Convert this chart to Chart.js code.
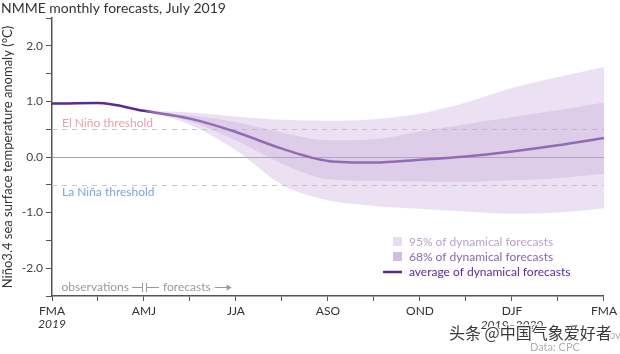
<!DOCTYPE html>
<html>
<head>
<meta charset="utf-8">
<script src="https://cdn.jsdelivr.net/npm/chart.js@4.4.1/dist/chart.umd.min.js"></script>
<style>
  body { margin: 0; background: #fff; }
  canvas { display: block; }
</style>
</head>
<body>
<canvas id="ninoChart" width="620" height="354"></canvas>
<script>
// seasons (3-month running), FMA 2019 .. FMA 2020
const seasons = ['FMA', 'MAM', 'AMJ', 'MJJ', 'JJA', 'JAS', 'ASO', 'SON', 'OND', 'NDJ', 'DJF', 'JFM', 'FMA'];

// average of dynamical forecasts (observations up to AMJ)
const avgForecast = [0.96, 0.97, 0.83, 0.69, 0.45, 0.15, -0.07, -0.10, -0.05, 0.01, 0.10, 0.21, 0.34];

// spread of the dynamical forecasts
const upper95 = [null, null, 0.83, 0.80, 0.73, 0.67, 0.65, 0.68, 0.78, 0.98, 1.24, 1.44, 1.62];
const lower95 = [null, null, 0.83, 0.58, 0.12, -0.50, -0.78, -0.88, -0.93, -0.98, -1.02, -1.00, -0.92];
const upper68 = [null, null, 0.83, 0.75, 0.63, 0.44, 0.30, 0.32, 0.46, 0.59, 0.72, 0.84, 0.98];
const lower68 = [null, null, 0.83, 0.64, 0.30, -0.12, -0.40, -0.43, -0.44, -0.45, -0.42, -0.38, -0.30];

const thresholdValues = [0.5, -0.5];
const thresholdLabels = ['El Niño threshold', 'La Niña threshold'];
const legendLabels = ['95% of dynamical forecasts', '68% of dynamical forecasts', 'average of dynamical forecasts'];

const FONT = 'Lato, "DejaVu Sans", sans-serif';
Chart.defaults.font.family = FONT;
Chart.defaults.font.size = 12;

const annotations = {
  id: 'annotations',
  beforeDatasetsDraw(chart) {
    const { ctx, chartArea: a, scales: { y } } = chart;
    ctx.save();
    ctx.lineWidth = 1;
    // zero line
    ctx.strokeStyle = '#a5a5a5';
    const y0 = Math.round(y.getPixelForValue(0)) + 0.5;
    ctx.beginPath(); ctx.moveTo(a.left, y0); ctx.lineTo(a.right, y0); ctx.stroke();
    // threshold lines
    ctx.setLineDash([5, 5]);
    ctx.strokeStyle = '#cdc3ca';
    thresholdValues.forEach(v => {
      const yy = Math.round(y.getPixelForValue(v)) + 0.5;
      ctx.beginPath(); ctx.moveTo(a.left, yy); ctx.lineTo(a.right, yy); ctx.stroke();
    });
    ctx.restore();
  },
  afterDraw(chart) {
    const { ctx, chartArea: a, scales: { x, y } } = chart;
    ctx.save();

    // title
    ctx.fillStyle = '#333';
    ctx.font = '14px ' + FONT;
    ctx.textBaseline = 'alphabetic';
    ctx.textAlign = 'left';
    ctx.fillText('NMME monthly forecasts, July 2019', 1, 13);

    // threshold labels
    ctx.font = '12px ' + FONT;
    ctx.textBaseline = 'middle';
    ctx.fillStyle = '#e3a2ab';
    ctx.fillText(thresholdLabels[0], a.left + 10, y.getPixelForValue(thresholdValues[0]) - 6);
    ctx.fillStyle = '#78a6d2';
    ctx.fillText(thresholdLabels[1], a.left + 10, y.getPixelForValue(thresholdValues[1]) + 7);

    // legend
    const lx = 393, ly = 242;
    ctx.fillStyle = '#e8ddef';
    ctx.fillRect(lx, ly - 5, 9, 9);
    ctx.fillStyle = '#d1bddf';
    ctx.fillRect(lx, ly + 10, 9, 9);
    ctx.strokeStyle = '#5b2b90';
    ctx.lineWidth = 2.5;
    ctx.beginPath(); ctx.moveTo(lx - 10, ly + 30); ctx.lineTo(lx + 9, ly + 30); ctx.stroke();
    const legendColors = ['#b9a1cc', '#8b64ad', '#5b2b90'];
    legendLabels.forEach((t, i) => {
      ctx.fillStyle = legendColors[i];
      ctx.fillText(t, lx + 16, ly + i * 15);
    });

    // observations | forecasts
    const xd = x.getPixelForValue(2);
    const yo = a.bottom - 9;
    ctx.fillStyle = '#9a9a9a';
    ctx.strokeStyle = '#9a9a9a';
    ctx.lineWidth = 1;
    ctx.textAlign = 'right';
    ctx.fillText('observations', xd - 15, yo);
    ctx.textAlign = 'left';
    ctx.fillText('forecasts', xd + 19, yo);
    ctx.beginPath();
    ctx.moveTo(xd - 12, yo + 0.5); ctx.lineTo(xd - 2, yo + 0.5);
    ctx.moveTo(xd + 3, yo + 0.5); ctx.lineTo(xd + 15, yo + 0.5);
    ctx.moveTo(xd - 1.5, yo - 4); ctx.lineTo(xd - 1.5, yo + 5);
    ctx.moveTo(xd + 2.5, yo - 4); ctx.lineTo(xd + 2.5, yo + 5);
    const fw = ctx.measureText('forecasts').width;
    const ax = xd + 19 + fw + 4;
    ctx.moveTo(ax, yo + 0.5); ctx.lineTo(ax + 14, yo + 0.5);
    ctx.stroke();
    ctx.beginPath();
    ctx.moveTo(ax + 17, yo + 0.5); ctx.lineTo(ax + 12, yo - 2.5); ctx.lineTo(ax + 12, yo + 3.5);
    ctx.closePath(); ctx.fill();

    // year labels
    ctx.fillStyle = '#333';
    ctx.font = 'italic 12px ' + FONT;
    ctx.textAlign = 'center';
    ctx.fillText('2019', x.getPixelForValue(0), 324);
    ctx.fillText('2019–2020', x.getPixelForValue(10), 325);

    // credits
    ctx.font = '11px ' + FONT;
    ctx.fillStyle = '#b0b0b0';
    ctx.textAlign = 'left';
    ctx.fillText('Data: CPC', 530, 347);
    ctx.fillText('ov', 609, 335);

    // watermark
    ctx.font = '16px "Noto Sans CJK SC", sans-serif';
    ctx.lineWidth = 3;
    ctx.strokeStyle = 'rgba(255,255,255,0.9)';
    ctx.fillStyle = '#3a3a3a';
    ctx.strokeText('头条 @中国气象爱好者', 449, 333);
    ctx.fillText('头条 @中国气象爱好者', 449, 333);

    ctx.restore();
  }
};

const bandStyle = { borderWidth: 0, pointRadius: 0, cubicInterpolationMode: 'monotone' };

const ctx = document.getElementById('ninoChart');
window.ninoChart = new Chart(ctx, {
  type: 'line',
  data: {
    labels: seasons,
    datasets: [
      { ...bandStyle, label: '95% upper', data: upper95, backgroundColor: 'rgba(200,170,220,0.35)', fill: '+1' },
      { ...bandStyle, label: '95% lower', data: lower95, fill: false },
      { ...bandStyle, label: '68% upper', data: upper68, backgroundColor: 'rgba(180,150,200,0.29)', fill: '+1' },
      { ...bandStyle, label: '68% lower', data: lower68, fill: false },
      {
        label: 'average',
        data: avgForecast,
        borderColor: '#5b2b90',
        borderWidth: 2.5,
        pointRadius: 0,
        fill: false,
        cubicInterpolationMode: 'monotone'
      }
    ]
  },
  options: {
    responsive: false,
    animation: false,
    layout: { padding: { top: 18, right: 12, left: 0, bottom: 0 } },
    plugins: {
      legend: { display: false },
      tooltip: { enabled: false }
    },
    scales: {
      x: {
        grid: { drawOnChartArea: false, drawTicks: true, tickLength: 5, color: '#555', lineWidth: 1 },
        border: { color: '#555', width: 1.5 },
        ticks: {
          color: '#333',
          padding: 3,
          maxRotation: 0,
          autoSkip: false,
          callback: (v, i) => (i % 2 === 0 ? seasons[i] : '')
        },
        afterFit: s => { s.height = 58; }
      },
      y: {
        min: -2.5,
        max: 2.5,
        grid: { drawOnChartArea: false, drawTicks: true, tickLength: 6, color: '#555', lineWidth: 1 },
        border: { color: '#555', width: 1.5 },
        ticks: {
          stepSize: 0.5,
          color: '#444',
          padding: 3,
          callback: v => (Number.isInteger(v) ? v.toFixed(1) : '')
        },
        title: {
          display: true,
          text: 'Niño3.4 sea surface temperature anomaly (°C)',
          color: '#333',
          font: { size: 13 },
          padding: { top: 0, bottom: 0 }
        },
        afterFit: s => { s.width = 52; }
      }
    }
  },
  plugins: [annotations]
});
</script>
</body>
</html>
